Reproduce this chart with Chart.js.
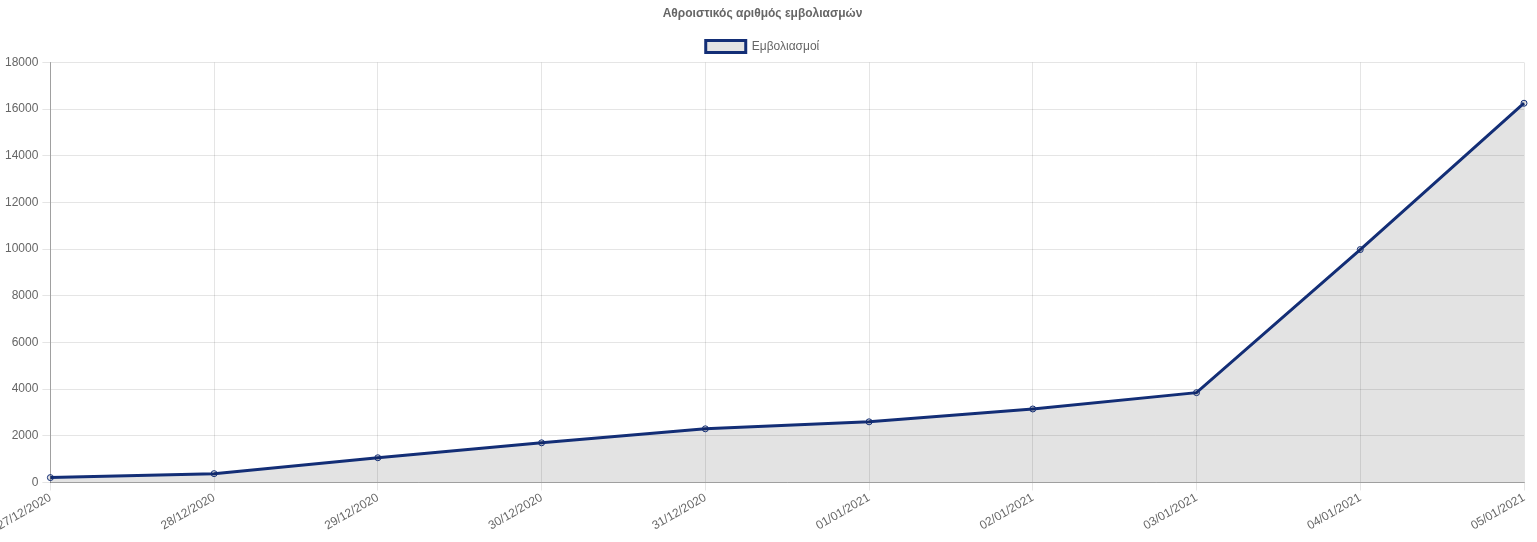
<!DOCTYPE html>
<html>
<head>
<meta charset="utf-8">
<script src="https://cdn.jsdelivr.net/npm/chart.js@4/dist/chart.umd.min.js"></script>
<style>
  html, body { margin: 0; padding: 0; background: #fff; }
  #wrap { width: 1537px; height: 542px; }
</style>
</head>
<body>
<div id="wrap"><canvas id="chart"></canvas></div>
<script>
// ===== Data =====
const labels = ['27/12/2020', '28/12/2020', '29/12/2020', '30/12/2020', '31/12/2020',
  '01/01/2021', '02/01/2021', '03/01/2021', '04/01/2021', '05/01/2021'];
const vaccinations = [210, 380, 1060, 1700, 2300, 2600, 3150, 3850, 9980, 16250];

Chart.defaults.font.family = "'Liberation Sans', Arial, Helvetica, sans-serif";
Chart.defaults.font.size = 12;
Chart.defaults.color = '#666';

const lineColor = 'rgb(19, 46, 118)';

new Chart(document.getElementById('chart'), {
  type: 'line',
  data: {
    labels: labels,
    datasets: [{
      label: 'Εμβολιασμοί',
      data: vaccinations,
      borderColor: lineColor,
      backgroundColor: 'rgba(0, 0, 0, 0.11)',
      borderWidth: 3,
      fill: 'origin',
      tension: 0,
      pointRadius: 3,
      pointBorderWidth: 1,
      pointBorderColor: lineColor,
      pointBackgroundColor: 'rgba(0, 0, 0, 0.11)',
    }]
  },
  options: {
    responsive: true,
    maintainAspectRatio: false,
    animation: false,
    layout: { padding: { left: 1, right: 13, top: 0, bottom: 9 } },
    plugins: {
      title: {
        display: true,
        text: 'Αθροιστικός αριθμός εμβολιασμών',
        font: { size: 12, weight: 'bold' },
        color: '#666',
        padding: { top: 6, bottom: 10 },
      },
      legend: {
        labels: { boxWidth: 40, boxHeight: 12, padding: 10, color: '#666' }
      },
      tooltip: { enabled: false }
    },
    scales: {
      x: {
        grid: { color: 'rgba(0, 0, 0, 0.1)', tickLength: 8 },
        border: { color: 'rgba(0, 0, 0, 0.3)' },
        ticks: { minRotation: 30, maxRotation: 30, padding: 0 },
        afterFit(scale) { scale.paddingLeft = 0; }
      },
      y: {
        min: 0,
        max: 18000,
        grid: { color: 'rgba(0, 0, 0, 0.1)', tickLength: 8 },
        border: { color: 'rgba(0, 0, 0, 0.3)' },
        ticks: { stepSize: 2000, padding: 4, callback: (v) => String(v) }
      }
    }
  }
});
</script>
</body>
</html>
